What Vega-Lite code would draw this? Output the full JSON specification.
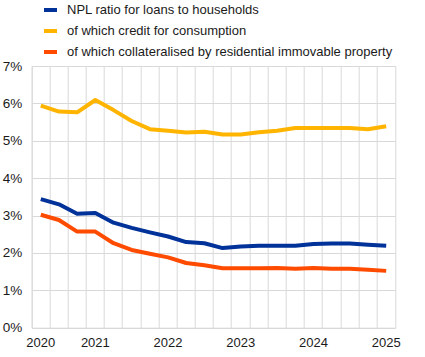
{
  "$schema": "https://vega.github.io/schema/vega-lite/v6.json",
  "autosize": "none",
  "width": 363.6,
  "height": 261.7,
  "padding": {"left": 31.7, "top": 66, "right": 29.7, "bottom": 29.3},
  "config": {
    "font": "Liberation Sans",
    "view": {"stroke": "#d9d9d9", "strokeWidth": 1},
    "axis": {"labelFont": "Liberation Sans", "labelColor": "#1a1a1a", "gridColor": "#d9d9d9", "gridWidth": 1}
  },
  "data": {"values": [
    {"t": "2020Q2", "s": "NPL ratio for loans to households", "v": 3.44},
    {"t": "2020Q3", "s": "NPL ratio for loans to households", "v": 3.30},
    {"t": "2020Q4", "s": "NPL ratio for loans to households", "v": 3.05},
    {"t": "2021Q1", "s": "NPL ratio for loans to households", "v": 3.07},
    {"t": "2021Q2", "s": "NPL ratio for loans to households", "v": 2.81},
    {"t": "2021Q3", "s": "NPL ratio for loans to households", "v": 2.67},
    {"t": "2021Q4", "s": "NPL ratio for loans to households", "v": 2.55},
    {"t": "2022Q1", "s": "NPL ratio for loans to households", "v": 2.44},
    {"t": "2022Q2", "s": "NPL ratio for loans to households", "v": 2.29},
    {"t": "2022Q3", "s": "NPL ratio for loans to households", "v": 2.26},
    {"t": "2022Q4", "s": "NPL ratio for loans to households", "v": 2.13},
    {"t": "2023Q1", "s": "NPL ratio for loans to households", "v": 2.17},
    {"t": "2023Q2", "s": "NPL ratio for loans to households", "v": 2.19},
    {"t": "2023Q3", "s": "NPL ratio for loans to households", "v": 2.19},
    {"t": "2023Q4", "s": "NPL ratio for loans to households", "v": 2.19},
    {"t": "2024Q1", "s": "NPL ratio for loans to households", "v": 2.24},
    {"t": "2024Q2", "s": "NPL ratio for loans to households", "v": 2.25},
    {"t": "2024Q3", "s": "NPL ratio for loans to households", "v": 2.25},
    {"t": "2024Q4", "s": "NPL ratio for loans to households", "v": 2.22},
    {"t": "2025Q1", "s": "NPL ratio for loans to households", "v": 2.19},
    {"t": "2020Q2", "s": "of which credit for consumption", "v": 5.94},
    {"t": "2020Q3", "s": "of which credit for consumption", "v": 5.78},
    {"t": "2020Q4", "s": "of which credit for consumption", "v": 5.76},
    {"t": "2021Q1", "s": "of which credit for consumption", "v": 6.09},
    {"t": "2021Q2", "s": "of which credit for consumption", "v": 5.82},
    {"t": "2021Q3", "s": "of which credit for consumption", "v": 5.53},
    {"t": "2021Q4", "s": "of which credit for consumption", "v": 5.31},
    {"t": "2022Q1", "s": "of which credit for consumption", "v": 5.27},
    {"t": "2022Q2", "s": "of which credit for consumption", "v": 5.22},
    {"t": "2022Q3", "s": "of which credit for consumption", "v": 5.24},
    {"t": "2022Q4", "s": "of which credit for consumption", "v": 5.17},
    {"t": "2023Q1", "s": "of which credit for consumption", "v": 5.17},
    {"t": "2023Q2", "s": "of which credit for consumption", "v": 5.23},
    {"t": "2023Q3", "s": "of which credit for consumption", "v": 5.27},
    {"t": "2023Q4", "s": "of which credit for consumption", "v": 5.34},
    {"t": "2024Q1", "s": "of which credit for consumption", "v": 5.34},
    {"t": "2024Q2", "s": "of which credit for consumption", "v": 5.34},
    {"t": "2024Q3", "s": "of which credit for consumption", "v": 5.34},
    {"t": "2024Q4", "s": "of which credit for consumption", "v": 5.31},
    {"t": "2025Q1", "s": "of which credit for consumption", "v": 5.39},
    {"t": "2020Q2", "s": "of which collateralised by residential immovable property", "v": 3.02},
    {"t": "2020Q3", "s": "of which collateralised by residential immovable property", "v": 2.88},
    {"t": "2020Q4", "s": "of which collateralised by residential immovable property", "v": 2.57},
    {"t": "2021Q1", "s": "of which collateralised by residential immovable property", "v": 2.57},
    {"t": "2021Q2", "s": "of which collateralised by residential immovable property", "v": 2.26},
    {"t": "2021Q3", "s": "of which collateralised by residential immovable property", "v": 2.08},
    {"t": "2021Q4", "s": "of which collateralised by residential immovable property", "v": 1.98},
    {"t": "2022Q1", "s": "of which collateralised by residential immovable property", "v": 1.88},
    {"t": "2022Q2", "s": "of which collateralised by residential immovable property", "v": 1.73},
    {"t": "2022Q3", "s": "of which collateralised by residential immovable property", "v": 1.67},
    {"t": "2022Q4", "s": "of which collateralised by residential immovable property", "v": 1.59},
    {"t": "2023Q1", "s": "of which collateralised by residential immovable property", "v": 1.59},
    {"t": "2023Q2", "s": "of which collateralised by residential immovable property", "v": 1.59},
    {"t": "2023Q3", "s": "of which collateralised by residential immovable property", "v": 1.60},
    {"t": "2023Q4", "s": "of which collateralised by residential immovable property", "v": 1.58},
    {"t": "2024Q1", "s": "of which collateralised by residential immovable property", "v": 1.60},
    {"t": "2024Q2", "s": "of which collateralised by residential immovable property", "v": 1.58},
    {"t": "2024Q3", "s": "of which collateralised by residential immovable property", "v": 1.58},
    {"t": "2024Q4", "s": "of which collateralised by residential immovable property", "v": 1.55},
    {"t": "2025Q1", "s": "of which collateralised by residential immovable property", "v": 1.52}
  ]},
  "mark": {"type": "line", "strokeWidth": 4, "strokeJoin": "round", "strokeCap": "butt"},
  "encoding": {
    "x": {
      "field": "t", "type": "ordinal", "sort": null,
      "scale": {"type": "band", "paddingInner": 0, "paddingOuter": 0},
      "axis": {
        "title": null, "bandPosition": 0, "grid": true, "ticks": false, "domain": false,
        "labelAngle": 0, "labelAlign": "center", "labelPadding": 9,
        "labelFontSize": 13, "labelOverlap": false,
        "labelExpr": "indexof(['2020Q2','2021Q1','2022Q1','2023Q1','2024Q1','2025Q1'], datum.value) >= 0 ? substring(datum.value, 0, 4) : ''"
      }
    },
    "y": {
      "field": "v", "type": "quantitative",
      "scale": {"domain": [0, 7], "nice": false},
      "axis": {
        "title": null, "values": [0, 1, 2, 3, 4, 5, 6, 7], "ticks": false, "domain": false,
        "labelPadding": 10, "labelFontSize": 13.5, "labelExpr": "datum.value + '%'"
      }
    },
    "color": {
      "field": "s", "type": "nominal",
      "scale": {
        "domain": ["NPL ratio for loans to households", "of which credit for consumption", "of which collateralised by residential immovable property"],
        "range": ["#003299", "#ffb400", "#ff4b00"]
      },
      "legend": {
        "title": null, "orient": "none", "legendX": 10.3, "legendY": -64.5, "padding": 0,
        "symbolType": "stroke", "symbolStrokeWidth": 4, "symbolSize": 169,
        "labelFontSize": 13, "labelFont": "Liberation Sans", "labelColor": "#1a1a1a", "labelOffset": 8, "rowPadding": 4,
        "labelLimit": 400
      }
    }
  }
}
